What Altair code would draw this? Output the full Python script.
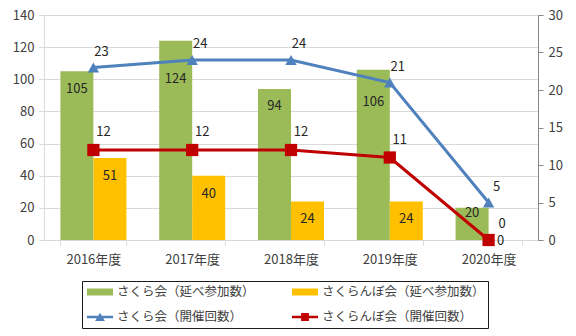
import altair as alt
import pandas as pd

years = ["2016年度", "2017年度", "2018年度", "2019年度", "2020年度"]
sakura_part = [105, 124, 94, 106, 20]
sakuranbo_part = [51, 40, 24, 24, 0]
sakura_cnt = [23, 24, 24, 21, 5]
sakuranbo_cnt = [12, 12, 12, 11, 0]
series = ["さくら会（延べ参加数）", "さくらんぼ会（延べ参加数）",
          "さくら会（開催回数）", "さくらんぼ会（開催回数）"]

FONT = "Noto Sans CJK JP"
GREEN, YELLOW, BLUE, RED = "#9BBB59", "#FFC000", "#4F81BD", "#C00000"
GRID = "#D9D9D9"
TXT = "#404040"

bars = pd.DataFrame({
    "year": years * 2,
    "series": [series[0]] * 5 + [series[1]] * 5,
    "value": sakura_part + sakuranbo_part,
})
lines = pd.DataFrame({
    "year": years * 2,
    "series": [series[2]] * 5 + [series[3]] * 5,
    "count": sakura_cnt + sakuranbo_cnt,
})
legend_df = pd.DataFrame({"series": series})

x = alt.X("year:N", sort=years,
          scale=alt.Scale(paddingInner=0.332, paddingOuter=0.166),
          axis=alt.Axis(title=None, labelAngle=0, tickBand="extent",
                        domainColor=GRID, tickColor=GRID, tickSize=5,
                        labelPadding=8, labelFontSize=13, labelColor=TXT,
                        labelFont=FONT))
xoff = alt.XOffset("series:N", sort=series[:2], scale=alt.Scale(paddingInner=0, paddingOuter=0))
yl = alt.Y("value:Q", scale=alt.Scale(domain=[0, 140], nice=False),
           axis=alt.Axis(title=None, values=list(range(0, 141, 20)), grid=True,
                         gridColor=GRID, domainColor=GRID, tickColor=GRID,
                         tickSize=5, labelPadding=5, labelFontSize=13,
                         labelColor=TXT, labelFont=FONT))
yr = alt.Y("count:Q", scale=alt.Scale(domain=[0, 30], nice=False),
           axis=alt.Axis(title=None, orient="right", values=list(range(0, 31, 5)),
                         grid=False, domainColor="#868686", tickColor="#868686",
                         tickSize=5, labelPadding=5, labelFontSize=13,
                         labelColor=TXT, labelFont=FONT))

base_b = alt.Chart(bars)
bar_layer = base_b.mark_bar().encode(
    x=x, xOffset=xoff, y=yl,
    color=alt.condition(alt.datum.series == series[0], alt.value(GREEN), alt.value(YELLOW)),
)

# bar label offsets (vertical, px below the bar top)
green_dy = {"2016年度": 18, "2017年度": 38, "2018年度": 17, "2019年度": 32, "2020年度": 5}
bar_texts = []
for yv, dy in green_dy.items():
    bar_texts.append(
        base_b.transform_filter((alt.datum.year == yv) & (alt.datum.series == series[0]))
        .mark_text(dy=dy, fontSize=13, font=FONT, color="#262626", baseline="middle")
        .encode(x=x, xOffset=xoff, y=yl, text="value:Q"))
bar_texts.append(
    base_b.transform_filter((alt.datum.series == series[1]) & (alt.datum.value > 0))
    .mark_text(dy=18, fontSize=13, font=FONT, color="#262626", baseline="middle")
    .encode(x=x, xOffset=xoff, y=yl, text="value:Q"))
bar_texts.append(
    base_b.transform_filter((alt.datum.series == series[1]) & (alt.datum.value == 0))
    .mark_text(dy=-16, dx=-3, fontSize=13, font=FONT, color="#262626", baseline="middle")
    .encode(x=x, xOffset=xoff, y=yl, text="value:Q"))

left = alt.layer(bar_layer, *bar_texts)

base_l = alt.Chart(lines)
blue_line = base_l.transform_filter(alt.datum.series == series[2]).mark_line(
    color=BLUE, strokeWidth=3,
    point=alt.OverlayMarkDef(shape="triangle-up", size=130, color=BLUE, filled=True, opacity=1),
).encode(x=x, y=yr)
red_line = base_l.transform_filter(alt.datum.series == series[3]).mark_line(
    color=RED, strokeWidth=3,
    point=alt.OverlayMarkDef(shape="square", size=150, color=RED, filled=True, opacity=1),
).encode(x=x, y=yr)

line_texts = [
    base_l.transform_filter(alt.datum.series == series[2])
    .mark_text(dx=8, dy=-16, fontSize=13, font=FONT, color="#262626", baseline="middle")
    .encode(x=x, y=yr, text="count:Q"),
    base_l.transform_filter((alt.datum.series == series[3]) & (alt.datum.year != "2020年度"))
    .mark_text(dx=10, dy=-18, fontSize=13, font=FONT, color="#262626", baseline="middle")
    .encode(x=x, y=yr, text="count:Q"),
    base_l.transform_filter((alt.datum.series == series[3]) & (alt.datum.year == "2020年度"))
    .mark_text(dx=12, dy=1, fontSize=13, font=FONT, color="#262626", baseline="middle")
    .encode(x=x, y=yr, text="count:Q"),
]
right = alt.layer(blue_line, red_line, *line_texts)

bar_sym = "M-1,-0.27H1V0.27H-1Z"
tri_sym = "M-1,-0.1H1V0.1H-1Z M-0.38,0.3L0,-0.32L0.38,0.3Z"
sq_sym = "M-1,-0.1H1V0.1H-1Z M-0.3,-0.3H0.3V0.3H-0.3Z"

leg = alt.Legend(title=None, orient="none", legendX=38, legendY=266, columns=2,
                 direction="horizontal",
                 symbolSize=676, clipHeight=16, labelFontSize=12.5, labelFont=FONT,
                 labelColor=TXT, strokeColor="#1a1a1a", padding=3, rowPadding=9,
                 columnPadding=35, symbolOpacity=1, symbolStrokeWidth=0,
                 labelOffset=4, labelLimit=400, symbolOffset=2)
legend_layer = alt.Chart(legend_df).mark_point(filled=True, opacity=0).encode(
    color=alt.Color("series:N", scale=alt.Scale(domain=series, range=[GREEN, YELLOW, BLUE, RED]), legend=leg),
    shape=alt.Shape("series:N", scale=alt.Scale(domain=series, range=[bar_sym, bar_sym, tri_sym, sq_sym]), legend=leg),
)

chart = alt.layer(left, right, legend_layer).resolve_scale(
    y="independent"
).properties(
    width=494, height=225,
    padding={"left": 44, "top": 15, "right": 38, "bottom": 96},
    autosize=alt.AutoSizeParams(type="none"),
    background="white",
).configure_view(stroke=None)

chart.save("out.html", embed_options={"renderer": "svg", "actions": False})
